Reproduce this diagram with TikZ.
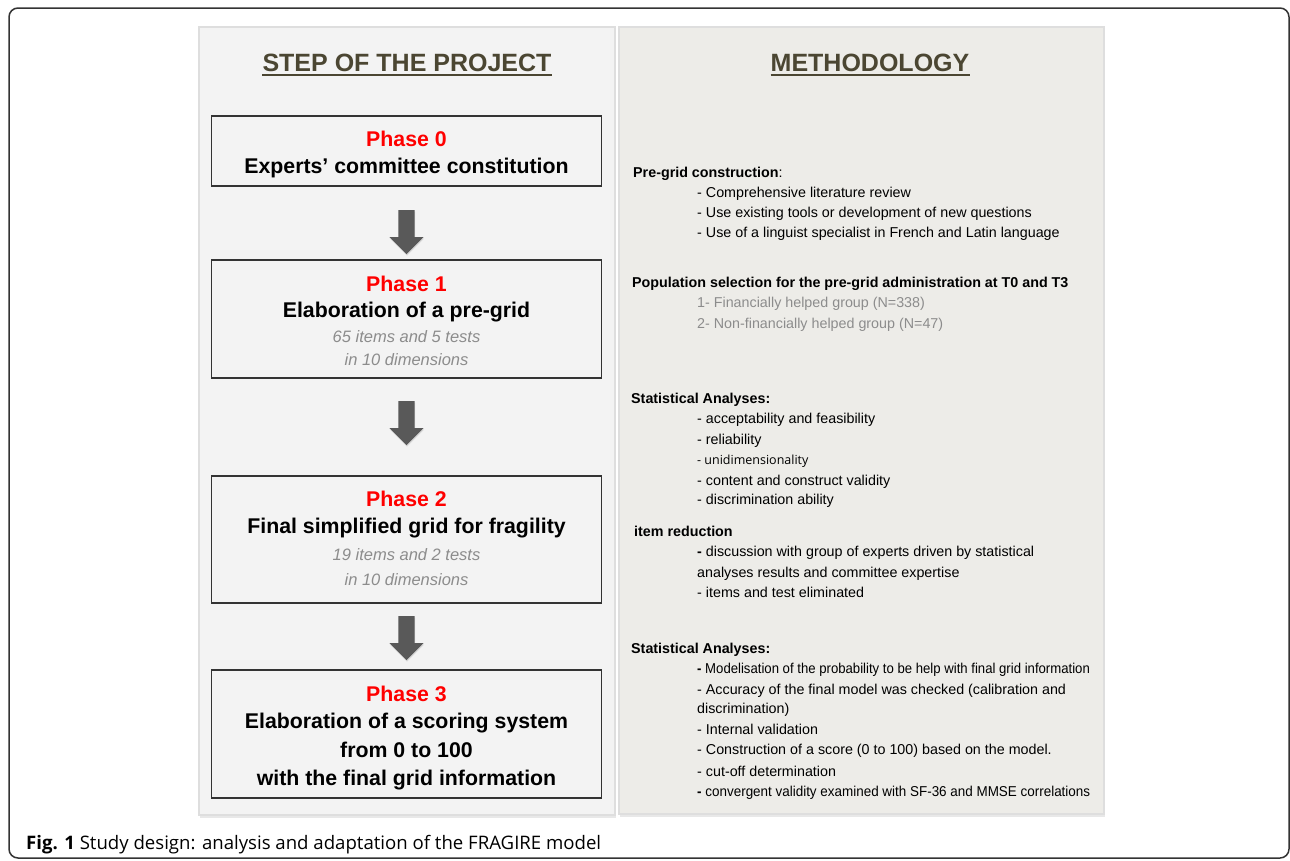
\documentclass[tikz,border=0pt]{standalone}
\usepackage{fontspec}
\usepackage{graphicx}
\setmainfont{Liberation Sans}
\newfontfamily\capfont{Open Sans}
\usetikzlibrary{shapes.arrows,shadows}
\definecolor{leftgray}{HTML}{F3F3F3}
\definecolor{rightgray}{HTML}{EDECE8}
\definecolor{headcol}{HTML}{4B4632}
\definecolor{arrowgray}{HTML}{595959}
\definecolor{notegray}{HTML}{8C8C8C}
\definecolor{phasered}{HTML}{FF0000}
\begin{document}
\begin{tikzpicture}[x=1pt,y=-1pt,
    panel/.style={draw=black!13,line width=1.5pt,inner sep=0pt,
      drop shadow={shadow xshift=1pt,shadow yshift=-2.5pt,opacity=.18}},
    phasebox/.style={draw=black!80,line width=1.4pt,fill=leftgray,
      minimum width=390pt,inner sep=0pt},
    phasename/.style={anchor=base,inner sep=0pt,text=phasered,
      font=\fontsize{21.3}{24}\selectfont\bfseries},
    phasetext/.style={anchor=base,inner sep=0pt,
      font=\fontsize{21.3}{24}\selectfont\bfseries},
    phasenote/.style={anchor=base,inner sep=0pt,text=notegray,
      font=\fontsize{16.5}{19}\selectfont\itshape},
    downarrow/.style={single arrow,shape border rotate=270,fill=arrowgray,
      inner sep=8pt,minimum height=44pt,single arrow head extend=9pt,
      single arrow head indent=0pt,anchor=tail,
      drop shadow={shadow xshift=0.5pt,shadow yshift=-1.5pt,opacity=.25}},
    heading/.style={anchor=base,inner sep=0pt,text=headcol,
      font=\fontsize{25}{29}\selectfont\bfseries},
    mhead/.style={anchor=base west,inner sep=0pt,
      font=\fontsize{14.3}{16}\selectfont\bfseries},
    mitem/.style={anchor=base west,inner sep=0pt,
      font=\fontsize{14.3}{16}\selectfont}]
  \useasboundingbox (0,0) rectangle (1290,860);
  % outer frame
  \draw[line width=1.5pt,black!80,rounded corners=9pt] (9,8) rectangle (1289,858);
  % the two columns
  \node[panel,fill=leftgray,minimum width=416pt,minimum height=788pt] (stepcol) at (407,421) {};
  \node[panel,fill=rightgray,minimum width=485pt,minimum height=787pt] (methcol) at (861.5,420.5) {};
  \node[heading] (hstep) at (407,71) {STEP OF THE PROJECT};
  \node[heading] (hmeth) at (870,71) {METHODOLOGY};
  \draw[headcol,line width=2pt] ([yshift=-3.5pt]hstep.base west) -- ([yshift=-3.5pt]hstep.base east);
  \draw[headcol,line width=2pt] ([yshift=-3.5pt]hmeth.base west) -- ([yshift=-3.5pt]hmeth.base east);
  % phases
  \node[phasebox,minimum height=70pt] (ph0) at (406.5,151) {};
  \node[phasename] (ph0a) at (406.5,146) {Phase 0};
  \node[phasetext] (ph0b) at (406.5,173) {Experts’ committee constitution};
  \node[phasebox,minimum height=118pt] (ph1) at (406.5,319) {};
  \node[phasename] (ph1a) at (406.5,291) {Phase 1};
  \node[phasetext] (ph1b) at (406.5,317) {Elaboration of a pre-grid};
  \node[phasenote] (ph1c) at (406.5,342) {65 items and 5 tests};
  \node[phasenote] (ph1d) at (406.5,365) {in 10 dimensions};
  \node[phasebox,minimum height=127pt] (ph2) at (406.5,539.5) {};
  \node[phasename] (ph2a) at (406.5,506) {Phase 2};
  \node[phasetext] (ph2b) at (406.5,533) {Final simplified grid for fragility};
  \node[phasenote] (ph2c) at (406.5,560) {19 items and 2 tests};
  \node[phasenote] (ph2d) at (406.5,585) {in 10 dimensions};
  \node[phasebox,minimum height=128pt] (ph3) at (406.5,734) {};
  \node[phasename] (ph3a) at (406.5,701) {Phase 3};
  \node[phasetext] (ph3b) at (406.5,728) {Elaboration of a scoring system};
  \node[phasetext] (ph3c) at (406.5,757) {from 0 to 100};
  \node[phasetext] (ph3d) at (406.5,785) {with the final grid information};
  % arrows between phases
  \node[downarrow] (ar1) at (406.5,210) {};
  \node[downarrow] (ar2) at (406.5,401) {};
  \node[downarrow] (ar3) at (406.5,616) {};
  % methodology
  \node[mitem] (m1) at (633,177) {\textbf{Pre-grid construction}:};
  \node[mitem] (m1a) at (697,197) {- Comprehensive literature review};
  \node[mitem] (m1b) at (697,217) {- Use existing tools or development of new questions};
  \node[mitem] (m1c) at (697,237) {- Use of a linguist specialist in French and Latin language};
  \node[mhead] (m2) at (632,287) {Population selection for the pre-grid administration at T0 and T3};
  \node[mitem,text=notegray] (m2a) at (697,307) {1- Financially helped group (N=338)};
  \node[mitem,text=notegray] (m2b) at (697,328) {2- Non-financially helped group (N=47)};
  \node[mhead] (m3) at (631,403) {Statistical Analyses:};
  \node[mitem] (m3a) at (697,423) {- acceptability and feasibility};
  \node[mitem] (m3b) at (697,444) {- reliability};
  \node[mitem,font=\capfont\fontsize{12.5}{15}\selectfont] (m3c) at (697,464) {- unidimensionality};
  \node[mitem] (m3d) at (697,485) {- content and construct validity};
  \node[mitem] (m3e) at (697,504) {- discrimination ability};
  \node[mhead] (m4) at (634,536) {item reduction};
  \node[mitem] (m4a) at (697,556) {\textbf{-} discussion with group of experts driven by statistical};
  \node[mitem] (m4b) at (697,577) {analyses results and committee expertise};
  \node[mitem] (m4c) at (697,597) {- items and test eliminated};
  \node[mhead] (m5) at (631,653) {Statistical Analyses:};
  \node[mitem] (m5a) at (697,673) {\scalebox{0.92}[1]{\textbf{-} Modelisation of the probability to be help with final grid information}};
  \node[mitem] (m5b) at (697,694) {- Accuracy of the final model was checked (calibration and};
  \node[mitem] (m5c) at (697,713) {discrimination)};
  \node[mitem] (m5d) at (697,734) {- Internal validation};
  \node[mitem] (m5e) at (697,754) {- Construction of a score (0 to 100) based on the model.};
  \node[mitem] (m5f) at (697,776) {- cut-off determination};
  \node[mitem] (m5g) at (697,796) {\scalebox{0.94}[1]{\textbf{-} convergent validity examined with SF-36 and MMSE correlations}};
  % caption
  \node[anchor=base west,inner sep=0pt,font=\capfont\fontsize{18.6}{21}\selectfont] (caption) at (26,849)
    {\textbf{Fig. 1} Study design: analysis and adaptation of the FRAGIRE model};
\end{tikzpicture}
\end{document}
